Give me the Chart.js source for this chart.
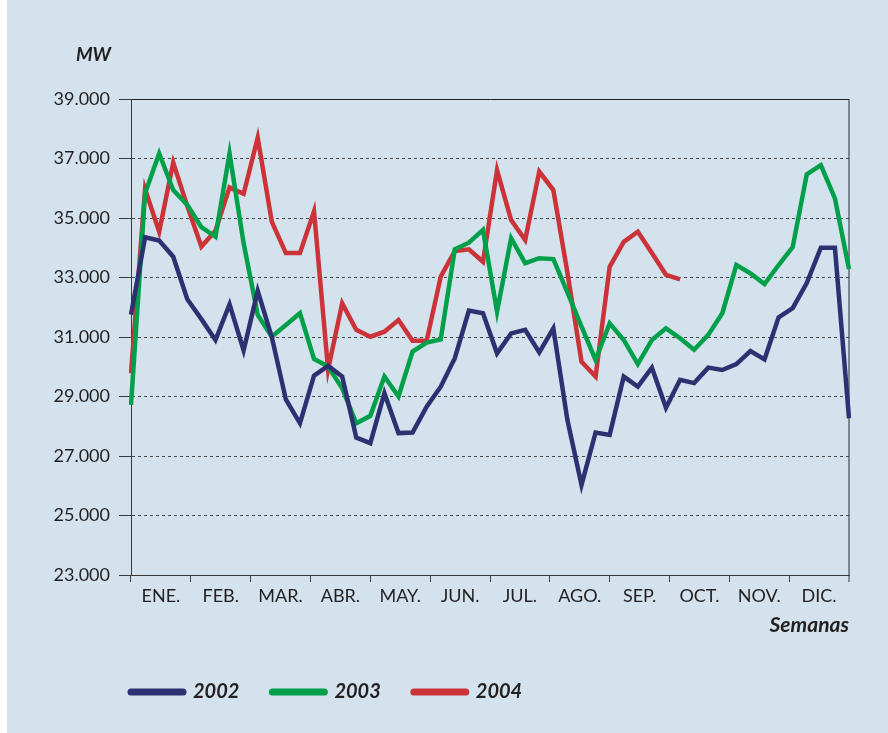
<!DOCTYPE html>
<html>
<head>
<meta charset="utf-8">
<script src="https://cdn.jsdelivr.net/npm/chart.js@4.4.1/dist/chart.umd.min.js"></script>
<style>
  html, body { margin: 0; padding: 0; background: #fff; }
  #panel { position: absolute; left: 7px; top: 0; width: 881px; height: 733px; background: #d3e2ec; }
</style>
</head>
<body>
<div id="panel"><canvas id="chart" width="881" height="733"></canvas></div>
<script>
const MONTHS = ["ENE.", "FEB.", "MAR.", "ABR.", "MAY.", "JUN.", "JUL.", "AGO.", "SEP.", "OCT.", "NOV.", "DIC."];
const WEEKS = Array.from({ length: 52 }, (_, i) => i + 1);
const YEARS = ["2002", "2003", "2004"];

// potencia semanal (MW)
const MW_2002 = [31750, 34350, 34240, 33700, 32270, 31600, 30900, 32100, 30550, 32550, 31000, 28900, 28100,
  29700, 30030, 29670, 27620, 27430, 29110, 27770, 27790, 28660, 29330, 30290, 31890, 31800,
  30450, 31120, 31240, 30480, 31290, 28210, 26030, 27790, 27710, 29670, 29330, 29970, 28620,
  29560, 29450, 29970, 29890, 30090, 30530, 30250, 31660, 31970, 32810, 34000, 34000, 28270];
const MW_2003 = [28720, 35830, 37170, 35940, 35440, 34690, 34370, 37170, 34150, 31740, 31010, 31400, 31800,
  30260, 30010, 29280, 28100, 28350, 29670, 29000, 30510, 30810, 30920, 33950, 34170, 34600,
  31850, 34320, 33480, 33650, 33620, 32500, 31350, 30230, 31460, 30900, 30090, 30900, 31290,
  30960, 30570, 31070, 31800, 33420, 33140, 32780, 33420, 34020, 36470, 36780, 35660, 33280];
const MW_2004 = [29780, 35970, 34540, 36860, 35400, 34040, 34570, 36030, 35810, 37700, 34880, 33820, 33820,
  35220, 29910, 32130, 31240, 31010, 31180, 31570, 30870, 30870, 33030, 33890, 33950, 33530,
  36610, 34930, 34260, 36560, 35940, 33160, 30170, 29670, 33360, 34200, 34540, 33820, 33090,
  32940];

const SERIES = [MW_2002, MW_2003, MW_2004];
const COLORS = ["#2e3171", "#00a04a", "#cc3338"];

Chart.defaults.font.family = "Lato, 'DejaVu Sans', sans-serif";
Chart.defaults.color = "#231f20";

function formatMiles(v) {
  return String(v).replace(/\B(?=(\d{3})+(?!\d))/g, ".");
}

// "MW" encima de las etiquetas del eje Y
const unitLabel = {
  id: "unitLabel",
  afterLayout(chart) {
    // el eje Y es estrecho para que la leyenda arranque en el borde del gráfico;
    // se amplía su caja hacia la izquierda para que las etiquetas no se recorten
    chart.scales.y.left = 0;
  },
  afterDraw(chart) {
    const ctx = chart.ctx;
    const y = chart.scales.y;
    ctx.save();
    ctx.font = "italic bold 19px Lato";
    ctx.fillStyle = "#231f20";
    ctx.textAlign = "right";
    ctx.textBaseline = "middle";
    ctx.fillText("MW", y.right - 20, chart.chartArea.top - 44);
    ctx.restore();
  },
};

new Chart(document.getElementById("chart"), {
  type: "line",
  data: {
    labels: WEEKS,
    datasets: YEARS.map((year, k) => ({
      label: year,
      data: SERIES[k],
      borderColor: COLORS[k],
      backgroundColor: COLORS[k],
      borderWidth: 4.5,
      pointRadius: 0,
      tension: 0,
      fill: false,
    })),
  },
  options: {
    responsive: false,
    animation: false,
    layout: { padding: { left: 91, right: 39, top: 99, bottom: 21 } },
    plugins: {
      legend: {
        position: "bottom",
        align: "start",
        labels: {
          usePointStyle: true,
          pointStyle: "line",
          pointStyleWidth: 52,
          padding: 33,
          color: "#231f20",
          font: { size: 20, style: "italic", weight: "bold" },
          generateLabels(chart) {
            return Chart.defaults.plugins.legend.labels.generateLabels(chart)
              .map((item) => Object.assign(item, { lineWidth: 7, lineCap: "round" }));
          },
        },
      },
      tooltip: { enabled: false },
    },
    scales: {
      x: { display: false },
      m: {
        axis: "x",
        type: "category",
        labels: MONTHS,
        position: "bottom",
        offset: true,
        grid: {
          offset: true,
          drawOnChartArea: true,
          color: (c) => (c.type === "scale" ? "#7d868b" : "rgba(0,0,0,0)"),
          lineWidth: (c) => (c.type === "scale" ? 2 : 1),
          tickLength: 7,
          tickColor: "#3a3a3a",
          tickWidth: 1,
        },
        border: { color: "#3a3a3a", width: 1 },
        ticks: { padding: 3, font: { size: 18 }, color: "#231f20", maxRotation: 0, autoSkip: false },
        title: {
          display: true,
          text: "Semanas",
          align: "end",
          color: "#231f20",
          font: { size: 21, style: "italic", weight: "bold" },
          padding: { top: 0, bottom: 11 },
        },
        afterFit(scale) { scale.height = 74; },
      },
      y: {
        min: 23000,
        max: 39000,
        ticks: { stepSize: 2000, padding: 9, font: { size: 18 }, color: "#231f20", callback: (v) => formatMiles(v) },
        grid: {
          color: (c) => (c.tick && (c.tick.value === 39000 || c.tick.value === 23000) ? "#1e1e1e" : "#4a4a4a"),
          tickLength: 12,
          tickColor: "#3a3a3a",
          tickBorderDash: [],
          lineWidth: 1,
        },
        border: {
          color: "#3a3a3a",
          dash: (c) => (c.tick && c.tick.value > 23000 && c.tick.value < 39000 ? [3, 3] : []),
        },
        afterFit(scale) { scale.width = 33; },
      },
    },
  },
  plugins: [unitLabel],
});
</script>
</body>
</html>
